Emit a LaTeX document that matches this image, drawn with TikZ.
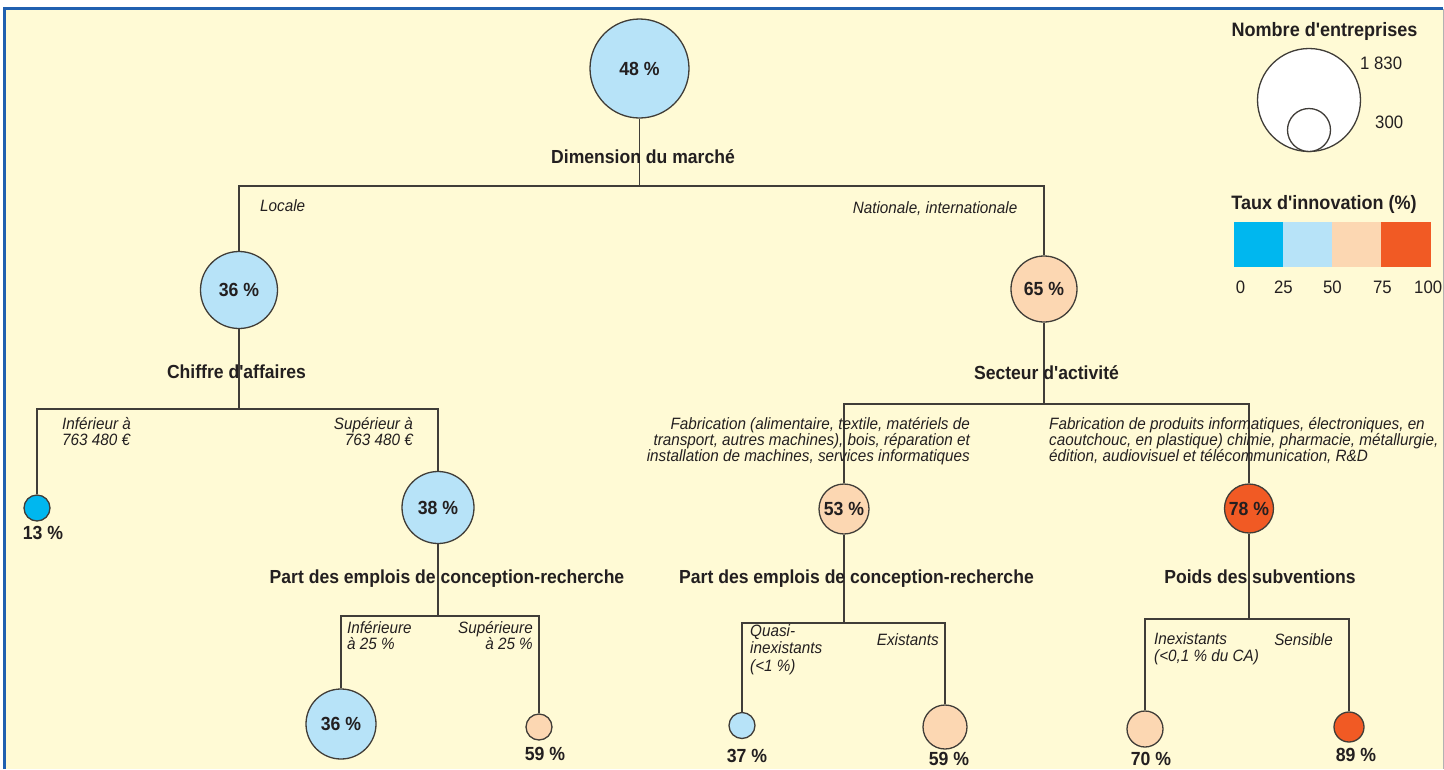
\documentclass[tikz,border=0pt]{standalone}
\usepackage{fontspec}
\setmainfont{Liberation Sans}[FakeStretch=0.93,Ligatures=TeXOff]
\definecolor{bgy}{HTML}{FFFAD5}
\definecolor{frameblue}{HTML}{2060B0}
\definecolor{lnc}{HTML}{403D38}
\definecolor{txt}{HTML}{231F20}
\definecolor{cA}{HTML}{00B7EF}
\definecolor{cB}{HTML}{B7E3F8}
\definecolor{cC}{HTML}{FCD7B2}
\definecolor{cD}{HTML}{F15A24}
\newcommand\Lstk[1]{\vtop{\baselineskip=16.4pt\lineskiplimit=-20pt\halign{##\hfil\cr#1\crcr}}}
\newcommand\Rstk[1]{\vtop{\baselineskip=16.4pt\lineskiplimit=-20pt\halign{\hfil##\cr#1\crcr}}}
\newcommand\LstkB[1]{\vtop{\baselineskip=17.5pt\lineskiplimit=-20pt\halign{##\hfil\cr#1\crcr}}}
\begin{document}
\begin{tikzpicture}[x=1pt,y=-1pt,
  ln/.style={draw=lnc,line width=1.7pt},
  circ/.style={circle,draw=lnc,line width=1.3pt,inner sep=0pt,text=txt,
     font=\bfseries\fontsize{19}{20}\selectfont},
  hd/.style={anchor=base,inner sep=0pt,text=txt,font=\bfseries\fontsize{18.9}{20}\selectfont},
  lgh/.style={anchor=base,inner sep=0pt,text=txt,font=\bfseries\fontsize{19.4}{20}\selectfont},
  pct/.style={anchor=base,inner sep=0pt,text=txt,font=\bfseries\fontsize{19}{20}\selectfont},
  itl/.style={anchor=base west,inner sep=0pt,text=txt,font=\itshape\fontsize{16.4}{16.4}\selectfont},
  itr/.style={anchor=base east,inner sep=0pt,text=txt,font=\itshape\fontsize{16.4}{16.4}\selectfont},
  num/.style={anchor=base,inner sep=0pt,text=txt,font=\fontsize{18}{20}\selectfont}]
% canvas and frame
\fill[white] (0,0) rectangle (1444,769);
\useasboundingbox (0,0) rectangle (1444,769);
\fill[bgy] (4.5,8.5) rectangle (1443,769);
\draw[frameblue,line width=3pt] (4.5,769) -- (4.5,8.5) -- (1443,8.5);
\draw[black!30,line width=1.2pt] (1443.4,8.5) -- (1443.4,769);
% bar levels
\coordinate (b0) at (0,186);
\coordinate (b1) at (0,409);
\coordinate (b2) at (0,404);
\coordinate (b3) at (0,616);
\coordinate (b4) at (0,623);
\coordinate (b5) at (0,619);
% circles
\node[circ,fill=cB,minimum size=99pt] (c48) at (639.5,68.5) {48 \%};
\node[circ,fill=cB,minimum size=77pt] (c36) at (239,290) {36 \%};
\node[circ,fill=cC,minimum size=66pt] (c65) at (1044,289) {65 \%};
\node[circ,fill=cA,minimum size=26pt] (c13) at (37,508) {};
\node[circ,fill=cB,minimum size=72pt] (c38) at (438,507.5) {38 \%};
\node[circ,fill=cC,minimum size=50pt] (c53) at (844,509) {53 \%};
\node[circ,fill=cD,minimum size=49pt] (c78) at (1249,508.5) {78 \%};
\node[circ,fill=cB,minimum size=70pt] (c36b) at (341,724) {36 \%};
\node[circ,fill=cC,minimum size=26pt] (c59a) at (539,727) {};
\node[circ,fill=cB,minimum size=26pt] (c37) at (742,725.5) {};
\node[circ,fill=cC,minimum size=44pt] (c59b) at (945,727) {};
\node[circ,fill=cC,minimum size=36pt] (c70) at (1145,729) {};
\node[circ,fill=cD,minimum size=30pt] (c89) at (1349,727) {};
% connectors
\draw[ln] (c48.south) -- (c48.south |- b0);
\draw[ln] (c36.north) |- (c65.north |- b0) -- (c65.north);
\draw[ln] (c36.south) -- (c36.south |- b1);
\draw[ln] (c13.north) |- (c38.north |- b1) -- (c38.north);
\draw[ln] (c65.south) -- (c65.south |- b2);
\draw[ln] (c53.north) |- (c78.north |- b2) -- (c78.north);
\draw[ln] (c38.south) -- (c38.south |- b3);
\draw[ln] (c36b.north) |- (c59a.north |- b3) -- (c59a.north);
\draw[ln] (c53.south) -- (c53.south |- b4);
\draw[ln] (c37.north) |- (c59b.north |- b4) -- (c59b.north);
\draw[ln] (c78.south) -- (c78.south |- b5);
\draw[ln] (c70.north) |- (c89.north |- b5) -- (c89.north);
% headings
\node[hd] (h1) at (643,163) {Dimension du marché};
\node[hd] (h2) at (236.5,378) {Chiffre d'affaires};
\node[hd] (h3) at (1046.5,379) {Secteur d'activité};
\node[hd] (h4) at (447,583) {Part des emplois de conception-recherche};
\node[hd] (h5) at (856.5,583) {Part des emplois de conception-recherche};
\node[hd] (h6) at (1260,583) {Poids des subventions};
% branch labels
\node[itl] (l1) at (260,211.5) {Locale};
\node[itr] (l2) at (1017.5,213) {Nationale, internationale};
\node[itl] (l3) at (62,429) {\Lstk{Inférieur à\cr 763 480 €}};
\node[itr] (l4) at (413,429) {\Rstk{Supérieur à\cr 763 480 €}};
\node[itr] (l5) at (970,429) {\Rstk{Fabrication (alimentaire, textile, matériels de\cr transport, autres machines), bois, réparation et\cr installation de machines, services informatiques}};
\node[itl] (l6) at (1049,429) {\Lstk{Fabrication de produits informatiques, électroniques, en\cr caoutchouc, en plastique) chimie, pharmacie, métallurgie,\cr édition, audiovisuel et télécommunication, R\&D}};
\node[itl] (l7) at (347,633.5) {\Lstk{Inférieure\cr à 25 \%}};
\node[itr] (l8) at (533,633.5) {\Rstk{Supérieure\cr à 25 \%}};
\node[itl] (l9) at (750,636) {\LstkB{Quasi-\cr inexistants\cr (<1 \%)}};
\node[itr] (l10) at (939,645.5) {Existants};
\node[itl] (l11) at (1154,644) {\LstkB{Inexistants\cr (<0,1 \% du CA)}};
\node[itr] (l12) at (1333,645) {Sensible};
% outside percentage labels
\node[pct] (p13) at (43,539) {13 \%};
\node[pct] (p59a) at (545,760) {59 \%};
\node[pct] (p37) at (747,762) {37 \%};
\node[pct] (p59b) at (949,765) {59 \%};
\node[pct] (p70) at (1151,765) {70 \%};
\node[pct] (p89) at (1356,761.5) {89 \%};
% legend: size
\node[lgh] (lg1) at (1324.5,36) {Nombre d'entreprises};
\node[circle,draw=lnc,line width=1.3pt,fill=white,minimum size=103pt,inner sep=0pt] (lbig) at (1309,100) {};
\node[circle,draw=lnc,line width=1.3pt,fill=white,minimum size=43pt,inner sep=0pt] (lsmall) at (1309,130) {};
\node[num,anchor=base west] (n1) at (1360,69.3) {1 830};
\node[num,anchor=base west] (n2) at (1375,128.3) {300};
% legend: colours
\node[lgh] (lg2) at (1324,209) {Taux d'innovation (\%)};
\fill[cA] (1234,222) rectangle (1283,267);
\fill[cB] (1283,222) rectangle (1332,267);
\fill[cC] (1332,222) rectangle (1381,267);
\fill[cD] (1381,222) rectangle (1431,267);
\node[num] (t0) at (1240.5,293.3) {0};
\node[num] (t25) at (1283.3,293.3) {25};
\node[num] (t50) at (1332.3,293.3) {50};
\node[num] (t75) at (1382.3,293.3) {75};
\node[num,anchor=base west] (t100) at (1414,293.3) {100};
\end{tikzpicture}
\end{document}
